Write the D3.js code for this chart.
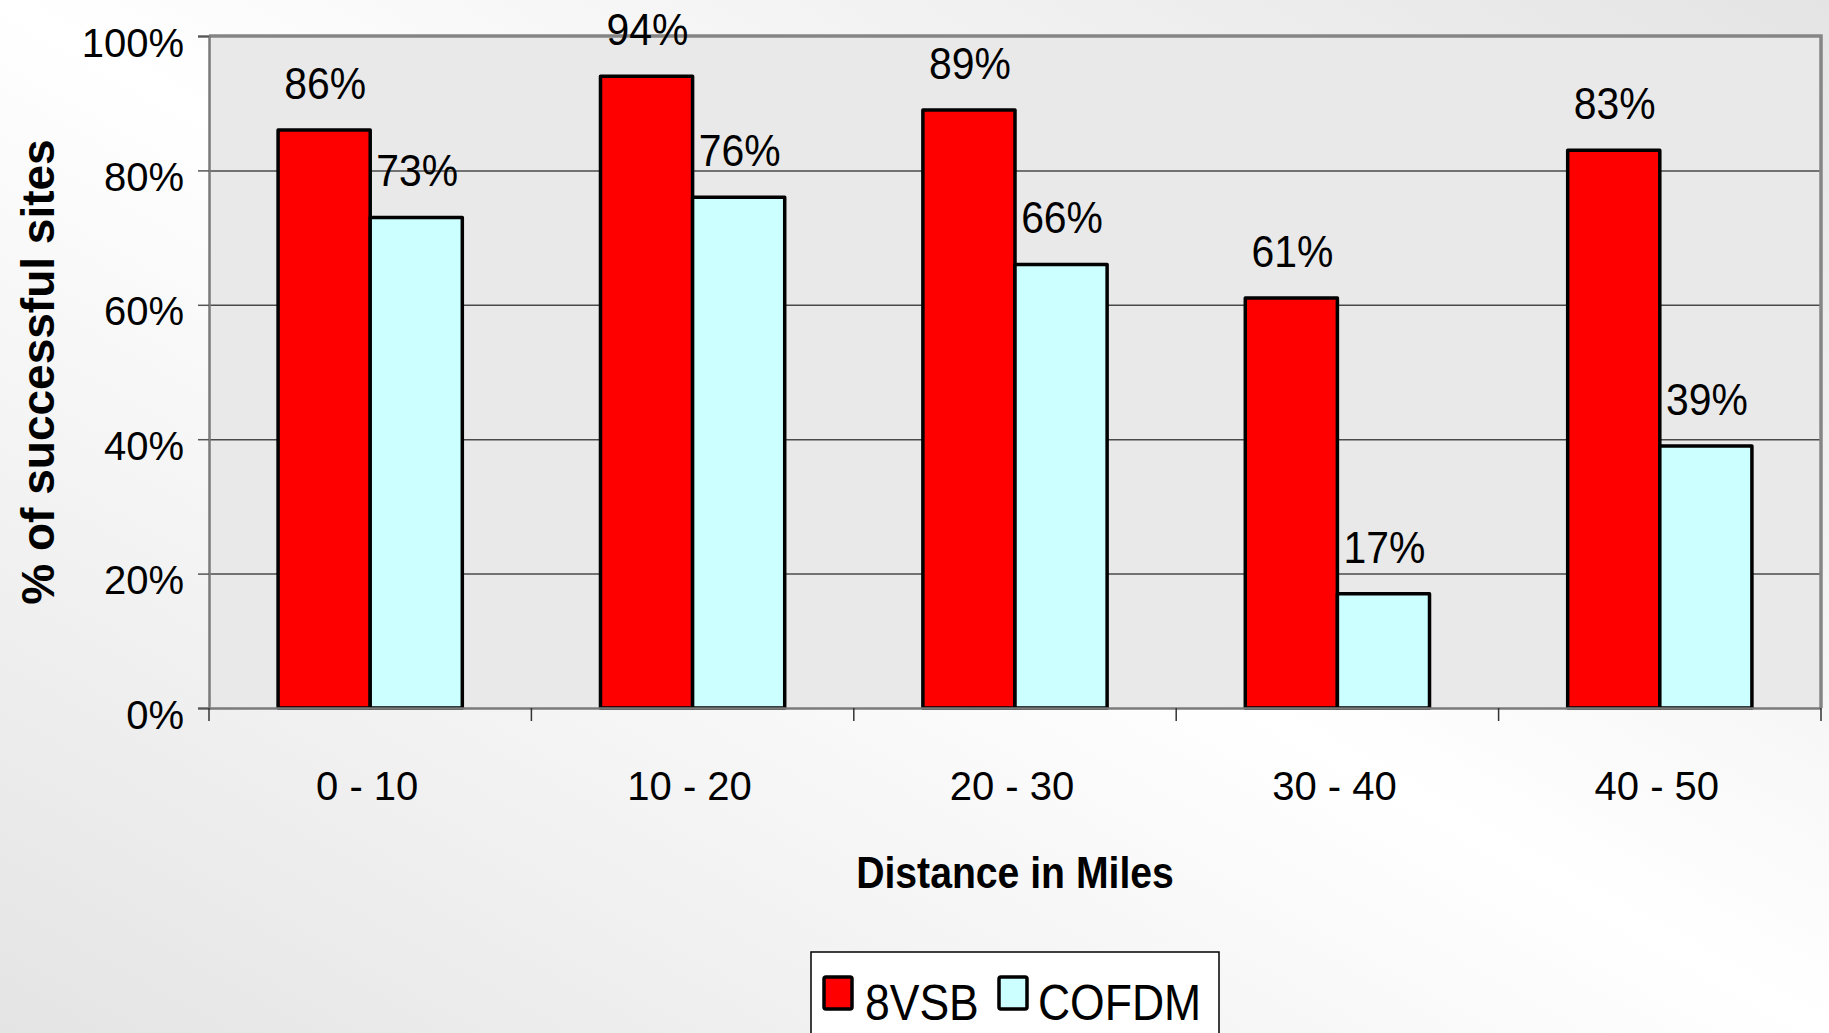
<!DOCTYPE html>
<html>
<head>
<meta charset="utf-8">
<script src="https://cdn.jsdelivr.net/npm/d3@7"></script>
<style>
  html, body { margin: 0; padding: 0; overflow: hidden; }
  svg { display: block; font-family: "Liberation Sans", Arial, sans-serif; }
</style>
</head>
<body>
<svg id="chart" width="1829" height="1033"></svg>
<script>
// Share of successful reception sites by distance band, per modulation scheme
const categories = ["0 - 10", "10 - 20", "20 - 30", "30 - 40", "40 - 50"];
const seriesNames = ["8VSB", "COFDM"];
const vsbValues = [86, 94, 89, 61, 83];
const cofdmValues = [73, 76, 66, 17, 39];
const yTickValues = [0, 20, 40, 60, 80, 100];
const seriesColors = ["#ff0000", "#ccffff"];

const W = 1829, H = 1033;
const plot = { left: 209, right: 1821, top: 36, bottom: 708 };

const svg = d3.select("#chart");

// Background: soft diagonal sheen
const defs = svg.append("defs");
const bg = defs.append("linearGradient").attr("id", "bgGrad")
  .attr("x1", 0).attr("y1", 1).attr("x2", 1).attr("y2", 0);
bg.append("stop").attr("offset", 0).attr("stop-color", "#e4e4e4");
bg.append("stop").attr("offset", 0.5).attr("stop-color", "#ffffff");
bg.append("stop").attr("offset", 1).attr("stop-color", "#e4e4e4");
svg.append("rect").attr("width", W).attr("height", H).attr("fill", "url(#bgGrad)");

const x = d3.scaleBand().domain(categories).range([plot.left, plot.right])
  .paddingInner(0).paddingOuter(0);
const xs = d3.scaleBand().domain(seriesNames).range([0, x.bandwidth()])
  .paddingInner(0).paddingOuter(0.75);
const y = d3.scaleLinear().domain([0, 100]).range([plot.bottom, plot.top]);

// Plot area
svg.append("rect")
  .attr("x", plot.left).attr("y", plot.top)
  .attr("width", plot.right - plot.left).attr("height", plot.bottom - plot.top)
  .attr("fill", "#e9e9e9");

// Gridlines
const grid = svg.append("g").attr("transform", `translate(${plot.left},0)`)
  .call(d3.axisLeft(y).tickValues(yTickValues.filter(v => v > 0 && v < 100))
    .tickSize(-(plot.right - plot.left)).tickFormat(""));
grid.select(".domain").remove();
grid.selectAll("line").attr("stroke", "#4a4a4a").attr("stroke-width", 1.5);

// Plot frame: top and right edges
svg.append("path")
  .attr("d", `M${plot.left},${plot.top}H${plot.right}V${plot.bottom}`)
  .attr("fill", "none").attr("stroke", "#858585").attr("stroke-width", 3.5);

// Y axis
const yAxis = svg.append("g").attr("transform", `translate(${plot.left},0)`)
  .call(d3.axisLeft(y).tickValues(yTickValues).tickSize(11).tickPadding(14)
    .tickFormat(d => d + "%"));
yAxis.select(".domain").attr("stroke", "#7a7a7a").attr("stroke-width", 2.5);
yAxis.selectAll(".tick line").attr("stroke", "#555").attr("stroke-width", 1.5);
yAxis.selectAll(".tick text")
  .attr("font-size", 40).attr("fill", "#000")
  .attr("dy", "0.5em").attr("x", -25);

// Bars
const groups = svg.append("g").selectAll("g")
  .data(categories).join("g")
  .attr("transform", d => `translate(${x(d)},0)`);

const barData = (c, i) => [
  { series: seriesNames[0], value: vsbValues[i], color: seriesColors[0] },
  { series: seriesNames[1], value: cofdmValues[i], color: seriesColors[1] }
];

groups.selectAll("rect")
  .data((c, i) => barData(c, i)).join("rect")
  .attr("x", d => xs(d.series))
  .attr("y", d => y(d.value))
  .attr("width", xs.bandwidth())
  .attr("height", d => y(0) - y(d.value))
  .attr("fill", d => d.color)
  .attr("stroke", "#000").attr("stroke-width", 3.5)
  .attr("stroke-linejoin", "round");

// Value labels above bars
groups.selectAll("text.value")
  .data((c, i) => barData(c, i)).join("text")
  .attr("class", "value")
  .attr("transform", d => `translate(${xs(d.series) + xs.bandwidth() / 2 + 1},${y(d.value) - 31}) scale(0.93,1)`)
  .attr("text-anchor", "middle")
  .attr("font-size", 44).attr("fill", "#000")
  .text(d => d.value + "%");

// X axis
const xAxis = svg.append("g").attr("transform", `translate(0,${plot.bottom})`)
  .call(d3.axisBottom(x).tickSize(0).tickPadding(0));
xAxis.select(".domain").attr("stroke", "#7a7a7a").attr("stroke-width", 2.5);
xAxis.selectAll(".tick text")
  .attr("font-size", 40).attr("fill", "#000")
  .attr("dy", 0).attr("y", 92).attr("x", -3);

// Category boundary ticks
const boundaries = categories.map(c => x(c)).concat([x.range()[1]]);
svg.append("g").selectAll("line")
  .data(boundaries).join("line")
  .attr("x1", d => d).attr("x2", d => d)
  .attr("y1", plot.bottom).attr("y2", plot.bottom + 13)
  .attr("stroke", "#333").attr("stroke-width", 1.5);

// Axis titles
svg.append("text")
  .attr("transform", `translate(${(plot.left + plot.right) / 2},888) scale(0.89,1)`)
  .attr("text-anchor", "middle")
  .attr("font-size", 44).attr("font-weight", "bold").attr("fill", "#000")
  .text("Distance in Miles");

svg.append("text")
  .attr("transform", `translate(54,${(plot.top + plot.bottom) / 2}) rotate(-90)`)
  .attr("text-anchor", "middle")
  .attr("font-size", 46).attr("font-weight", "bold").attr("fill", "#000")
  .text("% of successful sites");

// Legend
const legend = svg.append("g");
legend.append("rect")
  .attr("x", 811).attr("y", 952).attr("width", 408).attr("height", 100)
  .attr("fill", "#fff").attr("stroke", "#000").attr("stroke-width", 1.5);

const legendItems = [
  { name: seriesNames[0], color: seriesColors[0], sx: 824, tx: 865 },
  { name: seriesNames[1], color: seriesColors[1], sx: 999, tx: 1038 }
];
const li = legend.selectAll("g.item").data(legendItems).join("g").attr("class", "item");
li.append("rect")
  .attr("x", d => d.sx).attr("y", 977).attr("width", 28).attr("height", 32)
  .attr("rx", 2)
  .attr("fill", d => d.color).attr("stroke", "#000").attr("stroke-width", 3.5);
li.append("text")
  .attr("transform", d => `translate(${d.tx},1020) scale(0.89,1)`)
  .attr("font-size", 50).attr("fill", "#000")
  .text(d => d.name);
</script>
</body>
</html>
